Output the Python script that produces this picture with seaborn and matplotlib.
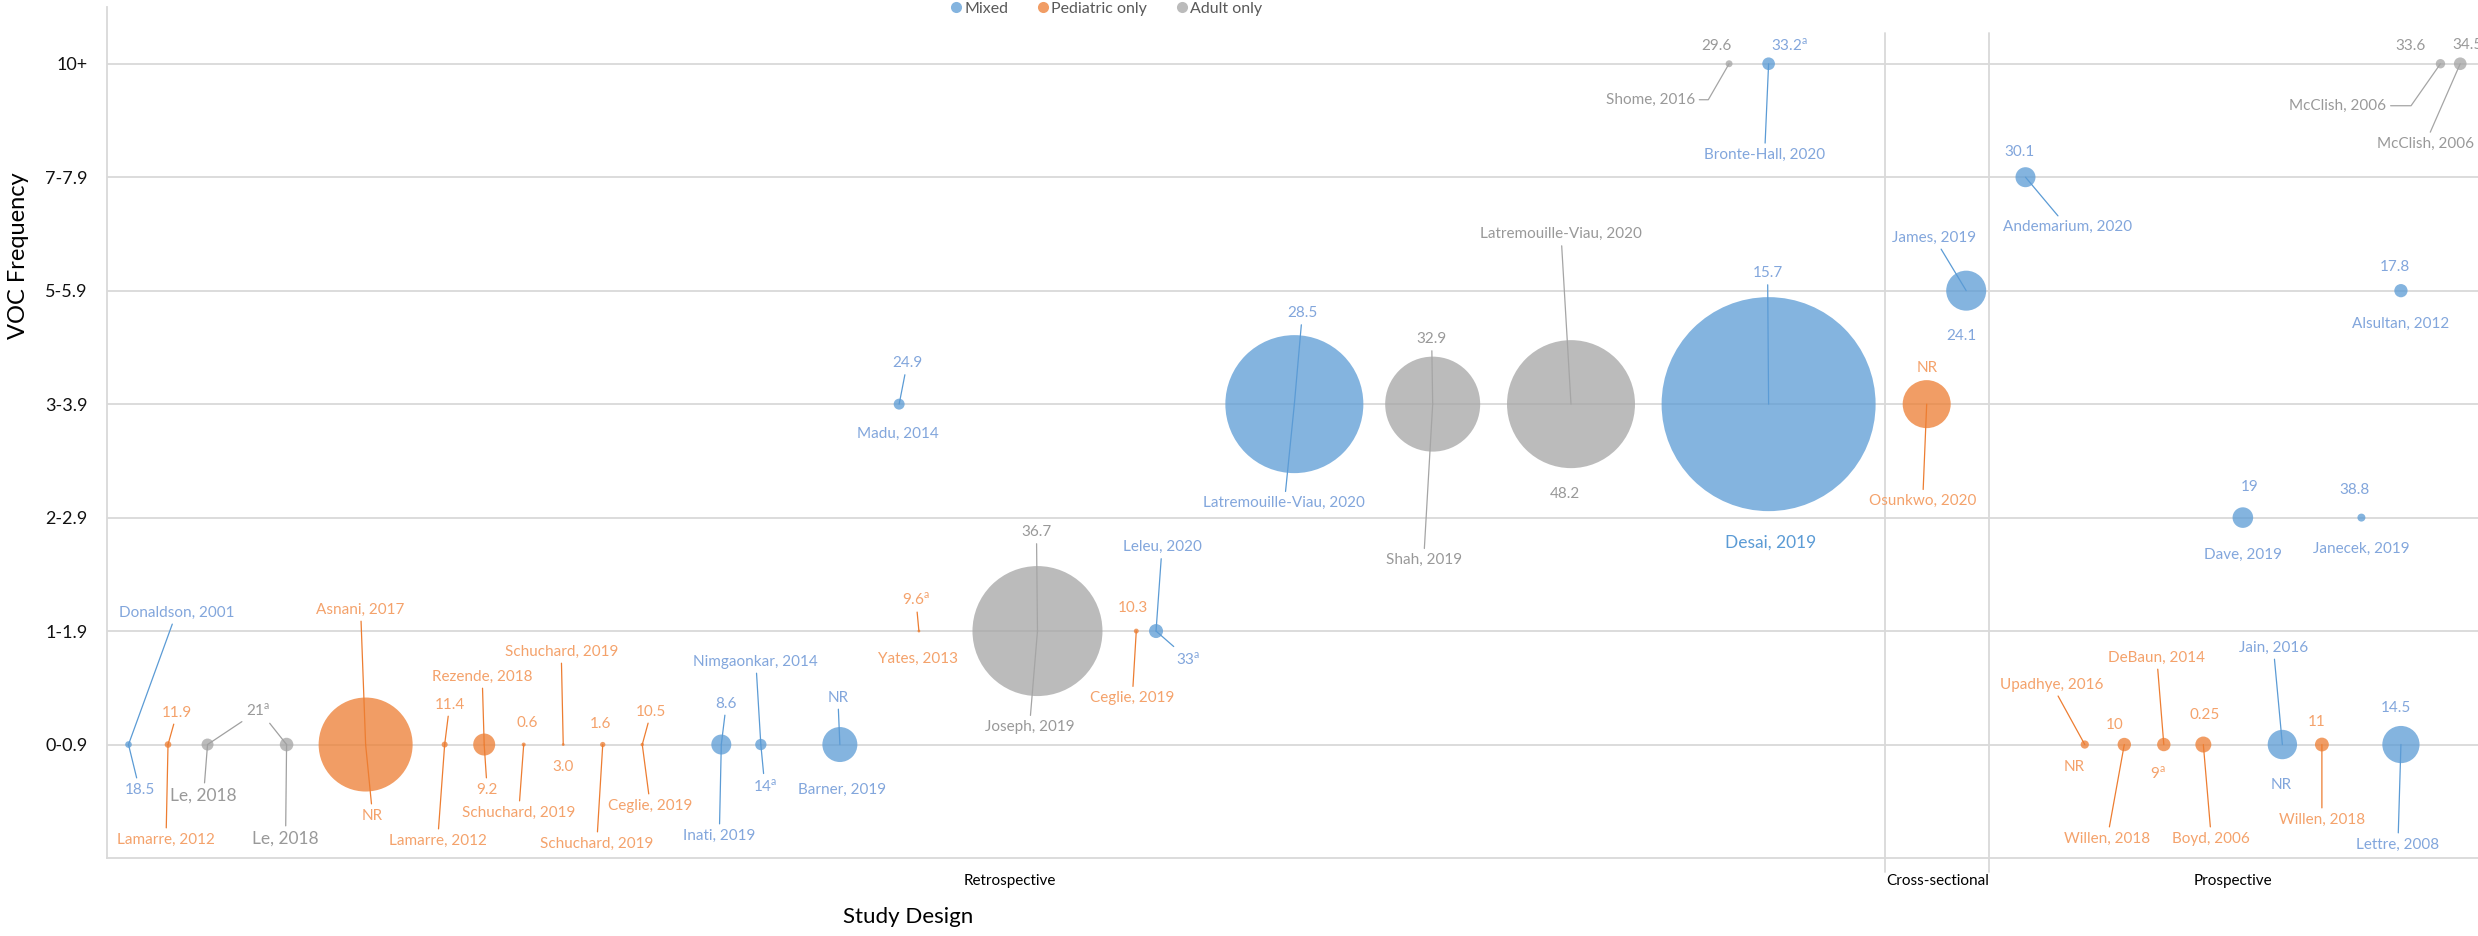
import numpy as np
import pandas as pd
import matplotlib
matplotlib.use('Agg')
import matplotlib.pyplot as plt
from matplotlib.lines import Line2D
import seaborn as sns

# VOC frequency bands (y categories)
voc_bands = ['0-0.9', '1-1.9', '2-2.9', '3-3.9', '5-5.9', '7-7.9', '10+']

# one entry per study, in left-to-right order
study = ['Donaldson, 2001', 'Lamarre, 2012', 'Le, 2018', 'Le, 2018', 'Asnani, 2017',
         'Lamarre, 2012', 'Rezende, 2018', 'Schuchard, 2019', 'Schuchard, 2019', 'Schuchard, 2019',
         'Ceglie, 2019', 'Inati, 2019', 'Nimgaonkar, 2014', 'Barner, 2019', 'Madu, 2014',
         'Yates, 2013', 'Joseph, 2019', 'Ceglie, 2019', 'Leleu, 2020', 'Latremouille-Viau, 2020',
         'Shah, 2019', 'Latremouille-Viau, 2020', 'Shome, 2016', 'Desai, 2019', 'Bronte-Hall, 2020',
         'Osunkwo, 2020', 'James, 2019', 'Andemarium, 2020', 'Upadhye, 2016', 'Willen, 2018',
         'DeBaun, 2014', 'Boyd, 2006', 'Dave, 2019', 'Jain, 2016', 'Willen, 2018',
         'Janecek, 2019', 'Alsultan, 2012', 'Lettre, 2008', 'McClish, 2006', 'McClish, 2006']

population = ['Mixed', 'Pediatric only', 'Adult only', 'Adult only', 'Pediatric only',
              'Pediatric only', 'Pediatric only', 'Pediatric only', 'Pediatric only', 'Pediatric only',
              'Pediatric only', 'Mixed', 'Mixed', 'Mixed', 'Mixed',
              'Pediatric only', 'Adult only', 'Pediatric only', 'Mixed', 'Mixed',
              'Adult only', 'Adult only', 'Adult only', 'Mixed', 'Mixed',
              'Pediatric only', 'Mixed', 'Mixed', 'Pediatric only', 'Pediatric only',
              'Pediatric only', 'Pediatric only', 'Mixed', 'Mixed', 'Pediatric only',
              'Mixed', 'Mixed', 'Mixed', 'Adult only', 'Adult only']

design = ['Retrospective'] * 25 + ['Cross-sectional'] * 2 + ['Prospective'] * 13

voc_band = ['0-0.9', '0-0.9', '0-0.9', '0-0.9', '0-0.9',
            '0-0.9', '0-0.9', '0-0.9', '0-0.9', '0-0.9',
            '0-0.9', '0-0.9', '0-0.9', '0-0.9', '3-3.9',
            '1-1.9', '1-1.9', '1-1.9', '1-1.9', '3-3.9',
            '3-3.9', '3-3.9', '10+', '3-3.9', '10+',
            '3-3.9', '5-5.9', '7-7.9', '0-0.9', '0-0.9',
            '0-0.9', '0-0.9', '2-2.9', '0-0.9', '0-0.9',
            '2-2.9', '5-5.9', '0-0.9', '10+', '10+']

# horizontal slot of each study along the design axis
slot = [1, 2, 3, 5, 7, 9, 10, 11, 12, 13,
        14, 16, 17, 19, 20.5, 21, 24, 26.5, 27, 30.5,
        34, 37.5, 41.5, 42.5, 42.5, 46.5, 47.5, 49, 50.5, 51.5,
        52.5, 53.5, 54.5, 55.5, 56.5, 57.5, 58.5, 58.5, 59.5, 60]

# relative bubble area (sample size weight)
bubble = [11, 11, 36, 46, 2209, 9, 121, 4, 2, 7,
          3, 100, 32, 306, 30, 2, 4225, 6, 49, 4761,
          2256, 4096, 12, 11449, 40, 576, 400, 100, 17, 45,
          45, 64, 106, 216, 48, 16, 44, 346, 22, 40]

# data label shown with each bubble (percentage / NR)
sup_a = r'$^{\rm a}$'
value_label = ['18.5', '11.9', '21' + sup_a, '21' + sup_a, 'NR', '11.4', '9.2', '0.6', '3.0', '1.6',
               '10.5', '8.6', '14' + sup_a, 'NR', '24.9', '9.6' + sup_a, '36.7', '10.3', '33' + sup_a, '28.5',
               '32.9', '48.2', '29.6', '15.7', '33.2' + sup_a, 'NR', '24.1', '30.1', 'NR', '10',
               '9' + sup_a, '0.25', '19', 'NR', '11', '38.8', '17.8', '14.5', '33.6', '34.5']

# ---- label layout (pixel offsets from bubble centre, +y = down) ----
value_off = [(11, 45), (9, -32), (51, -34), (-27, -34), (7, 71), (5, -40), (3, 45), (3, -22), (0, 22), (-2, -21),
             (9, -33), (5, -41), (4, 42), (-2, -47), (8, -41), (-3, -32), (-1, -99), (-3, -23), (32, 28), (8, -91),
             (-1, -65), (-6, 90), (-13, -18), (-1, -131), (21, -18), (1, -36), (-5, 45), (-6, -25), (-11, 22), (-10, -20),
             (-6, 29), (1, -30), (7, -31), (-1, 40), (-5, -23), (-7, -28), (-6, -24), (-5, -37), (-30, -18), (7, -19)]
name_off = [(48, -132), (-2, 95), (-4, 51), (-1, 94), (-5, -135), (-7, 96), (-2, -68), (-5, 68), (-2, -93), (-6, 99),
            (8, 61), (-2, 91), (-5, -83), (2, 45), (-1, 30), (-1, 28), (-8, 96), (-4, 67), (6, -84), (-10, 99),
            (-9, 156), (-10, -170), (-79, 36), (2, 138), (-4, 91), (-4, 97), (-32, -53), (42, 50), (-33, -60), (-17, 94),
            (-7, -87), (8, 94), (0, 37), (-9, -97), (0, 75), (0, 31), (0, 33), (-3, 100), (-103, 42), (-35, 80)]
no_value_line = {7, 8, 9, 17, 21, 22, 24, 25, 26, 27} | set(range(28, 40))
no_name_line = {13, 14, 15, 23, 32, 35, 36}
hidden_value = {3}  # Le, 2018 pair shares one "21a" label
big_name = {2: 12.5, 3: 12.5, 23: 12.5}
elbow = {22: 'angle,angleA=0,angleB=60,rad=0', 38: 'angle,angleA=0,angleB=55,rad=0'}

bubble_color = {'Mixed': '#5B9BD5', 'Pediatric only': '#ED7D31', 'Adult only': '#A5A5A5'}
text_color = {'Mixed': '#82A6DC', 'Pediatric only': '#F4A26B', 'Adult only': '#999999'}

sns.set_theme(style='white')
plt.rcParams['font.family'] = ['Lato', 'DejaVu Sans']
plt.rcParams['mathtext.fontset'] = 'custom'
plt.rcParams['mathtext.rm'] = 'Lato'

df = pd.DataFrame({'study': study, 'population': population, 'design': design,
                   'band': [voc_bands.index(b) for b in voc_band],
                   'slot': slot, 'bubble': bubble})

fig = plt.figure(figsize=(24.78, 9.36), dpi=100)
ax = fig.add_axes([107 / 2478, 1 - 858 / 936, 1 - 107 / 2478, (858 - 7) / 936])

# 1 px radius -> (1.44 pt)^2 marker area at 100 dpi
max_w = max(bubble)
sns.scatterplot(data=df, x='slot', y='band', hue='population', palette=bubble_color,
                size='bubble', sizes=(0, 2.0736 * max_w), size_norm=(0, max_w),
                alpha=0.75, linewidth=0, legend=False, ax=ax, zorder=3)

ax.set_xlim(0.456, 60.45)
ax.set_ylim(-1, 6.5)
ax.set_yticks(range(len(voc_bands)))
ax.set_yticklabels(voc_bands, fontsize=13, color='#111111')
ax.tick_params(axis='y', length=0, pad=14)
ax.set_xticks([])
ax.set_xlabel('')
ax.set_ylabel('')
ax.yaxis.grid(True, color='#D9D9D9', lw=1.3)
ax.set_axisbelow(True)
for side in ['top', 'right']:
    ax.spines[side].set_visible(False)
for side in ['left', 'bottom']:
    ax.spines[side].set_color('#D9D9D9')
    ax.spines[side].set_linewidth(1.3)

# study-design separators and section names
for xs in [45.45, 48.08]:
    ax.plot([xs, xs], [-1.12, 6.27], color='#D9D9D9', lw=1.3, clip_on=False, zorder=1)
for name, xc in [('Retrospective', 23.3), ('Cross-sectional', 46.77), ('Prospective', 54.25)]:
    ax.text(xc, -1.2, name, ha='center', va='center', fontsize=11, color='black', clip_on=False)

# data labels with leader lines
for i in range(len(study)):
    pop = population[i]
    xy = (slot[i], voc_bands.index(voc_band[i]))
    lc = bubble_color[pop]
    if i == 2 or i == 3:
        lc = '#A0A0A0'
    labels = [(value_label[i], value_off[i], i not in no_value_line,
               'none' if i in hidden_value else text_color[pop], None, 11),
              (study[i], name_off[i], i not in no_name_line, text_color[pop], elbow.get(i),
               big_name.get(i, 11))]
    for txt, (dx, dy), line, tc, conn, fs in labels:
        if txt == 'Desai, 2019':
            tc = '#5B9BD5'
        props = None
        if line:
            props = dict(arrowstyle='-', color=lc, lw=0.9, shrinkA=1, shrinkB=0,
                         connectionstyle=conn or 'arc3')
        ax.annotate(txt, xy=xy, xytext=(dx, -dy), textcoords='offset pixels',
                    ha='center', va='center', fontsize=fs, color=tc,
                    arrowprops=props, zorder=4, annotation_clip=False)

# axis titles
fig.text(19 / 2478, 1 - 256 / 936, 'VOC Frequency', rotation=90, ha='center', va='center',
         fontsize=17, color='black')
fig.text(908 / 2478, 1 - 917 / 936, 'Study Design', ha='center', va='center',
         fontsize=16, color='black')

# legend at the top
handles = [Line2D([0], [0], marker='o', ls='none', markersize=8, markeredgewidth=0,
                  markerfacecolor=bubble_color[k], alpha=0.75) for k in bubble_color]
fig.legend(handles, list(bubble_color), loc='center', bbox_to_anchor=(1106 / 2478, 1 - 9 / 936),
           ncol=3, frameon=False, fontsize=11.5, handletextpad=0.1, columnspacing=1.8,
           handlelength=0.8, labelcolor='#595959')

fig.savefig('out.png', dpi=100)
